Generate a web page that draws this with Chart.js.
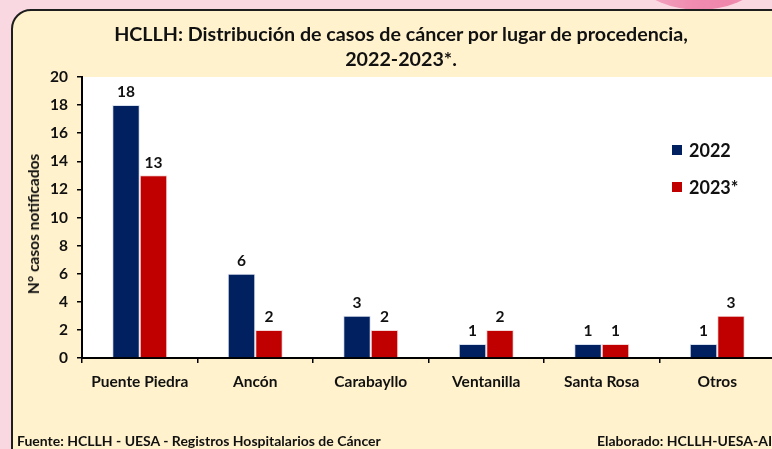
<!DOCTYPE html>
<html>
<head>
<meta charset="utf-8">
<script src="https://cdn.jsdelivr.net/npm/chart.js@4/dist/chart.umd.min.js"></script>
<style>
  html, body { margin: 0; padding: 0; }
  body { width: 772px; height: 449px; overflow: hidden; position: relative; background: #f9d8e2; font-family: Lato, sans-serif; }
  .blob { position: absolute; left: 599px; top: -190px; width: 200px; height: 200px; border-radius: 50%;
          background: linear-gradient(90deg, #f6bfd3 0%, #f08db1 45%, #ef86ab 65%, #f4b3ca 100%); }
  .frame { position: absolute; left: 11px; top: 9px; width: 800px; height: 480px; box-sizing: border-box;
           border: 2px solid #1e1e1e; border-radius: 20px; background: #fff2cc; }
  #wrap { position: absolute; left: 0; top: 0; width: 800px; height: 449px; }
  .title { position: absolute; left: 12px; width: 778px; top: 21px; text-align: center; font-weight: 700;
           font-size: 19.7px; line-height: 25px; color: #111; }
  .ytitle { position: absolute; left: 33px; top: 224px; transform: translate(-50%, -50%) rotate(-90deg);
            white-space: nowrap; font-weight: 700; font-size: 15.5px; color: #111; }
  .foot { position: absolute; top: 432px; font-weight: 700; font-size: 14px; color: #111; white-space: nowrap; }
</style>
</head>
<body>
<div class="blob"></div>
<div class="frame"></div>
<div id="wrap"><canvas id="chart" width="800" height="449"></canvas></div>
<div class="title">HCLLH: Distribución de casos de cáncer por lugar de procedencia,<br>2022-2023*.</div>
<div class="ytitle">N° casos notificados</div>
<div class="foot" style="left:17px">Fuente: HCLLH - UESA - Registros Hospitalarios de Cáncer</div>
<div class="foot" style="left:597px">Elaborado: HCLLH-UESA-AIS</div>
<script>
// ─── Data ───
const categories = ['Puente Piedra', 'Ancón', 'Carabayllo', 'Ventanilla', 'Santa Rosa', 'Otros'];
const cases2022 = [18, 6, 3, 1, 1, 1];
const cases2023 = [13, 2, 2, 2, 1, 3];
const seriesLabels = ['2022', '2023*'];
const yTicks = [0, 2, 4, 6, 8, 10, 12, 14, 16, 18, 20];

const NAVY = '#002060';
const RED = '#c00000';
const FONT = 'Lato, sans-serif';

// white plot area
const plotBg = {
    id: 'plotBg',
    beforeDraw(chart) {
        const { ctx, chartArea: a } = chart;
        ctx.save();
        ctx.fillStyle = '#ffffff';
        ctx.fillRect(a.left, a.top, a.right - a.left, a.bottom - a.top);
        ctx.restore();
    }
};

// value labels above bars
const barLabels = {
    id: 'barLabels',
    afterDatasetsDraw(chart) {
        const { ctx } = chart;
        ctx.save();
        ctx.font = `700 15.5px ${FONT}`;
        ctx.fillStyle = '#111';
        ctx.textAlign = 'center';
        ctx.textBaseline = 'bottom';
        chart.data.datasets.forEach((ds, i) => {
            chart.getDatasetMeta(i).data.forEach((bar, j) => {
                ctx.fillText(ds.data[j], bar.x, bar.y - 5);
            });
        });
        ctx.restore();
    }
};

// legend inside plot area
const insideLegend = {
    id: 'insideLegend',
    afterDraw(chart) {
        const { ctx } = chart;
        ctx.save();
        ctx.font = `700 18px ${FONT}`;
        ctx.textBaseline = 'middle';
        chart.data.datasets.forEach((ds, i) => {
            const y = 150 + i * 37;
            ctx.fillStyle = ds.backgroundColor;
            ctx.fillRect(672, y - 5, 10, 10);
            ctx.fillStyle = '#111';
            ctx.fillText(ds.label, 689, y + 1);
        });
        ctx.restore();
    }
};

new Chart(document.getElementById('chart'), {
    type: 'bar',
    data: {
        labels: categories,
        datasets: [
            { label: seriesLabels[0], data: cases2022, backgroundColor: NAVY, borderColor: 'rgba(200,210,230,0.7)', borderWidth: 1 },
            { label: seriesLabels[1], data: cases2023, backgroundColor: RED, borderColor: 'rgba(240,200,200,0.7)', borderWidth: 1 },
        ]
    },
    options: {
        responsive: false,
        animation: false,
        layout: { padding: { top: 77, right: 25, left: 0, bottom: 0 } },
        datasets: { bar: { categoryPercentage: 0.476, barPercentage: 1 } },
        plugins: { legend: { display: false }, tooltip: { enabled: false } },
        scales: {
            x: {
                afterFit(s) { s.height = 91; },
                grid: { display: true, drawOnChartArea: false, drawTicks: true, tickLength: 5, color: '#000', lineWidth: 1.5 },
                border: { color: '#000', width: 2 },
                ticks: { color: '#111', padding: 10, font: { family: FONT, size: 15.5, weight: '700' } },
            },
            y: {
                min: 0, max: 20,
                afterFit(s) { s.width = 82; },
                afterBuildTicks(s) { s.ticks = yTicks.map(v => ({ value: v })); },
                grid: { display: true, drawOnChartArea: false, drawTicks: true, tickLength: 5, color: '#000', lineWidth: 1.5 },
                border: { color: '#000', width: 2 },
                ticks: { color: '#111', padding: 9, font: { family: FONT, size: 15.5, weight: '700' } },
            }
        }
    },
    plugins: [plotBg, barLabels, insideLegend]
});
</script>
</body>
</html>
